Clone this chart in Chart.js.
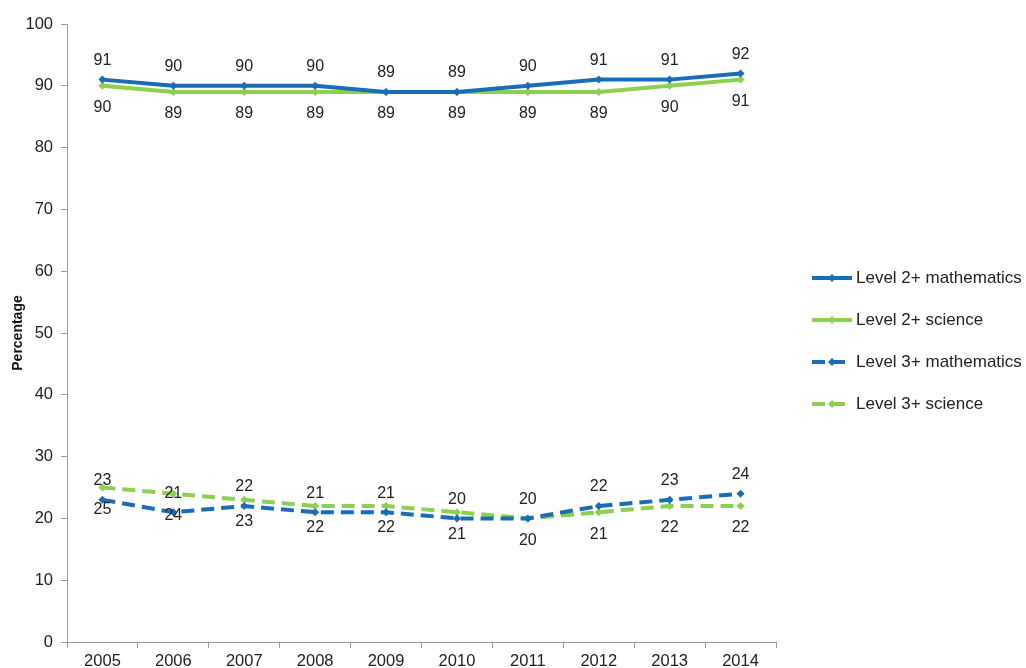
<!DOCTYPE html>
<html>
<head>
<meta charset="utf-8">
<script src="https://cdn.jsdelivr.net/npm/chart.js@4/dist/chart.umd.min.js"></script>
<style>
  body { margin: 0; background: #fff; }
  #wrap { width: 1026px; height: 668px; }
</style>
</head>
<body>
<div id="wrap"><canvas id="chart" width="1026" height="668"></canvas></div>
<script>
// years and series values
var years = ["2005","2006","2007","2008","2009","2010","2011","2012","2013","2014"];
var level2Maths = [91,90,90,90,89,89,90,91,91,92];
var level2Science = [90,89,89,89,89,89,89,89,90,91];
var level3Maths = [23,21,22,21,21,20,20,22,23,24];
var level3Science = [25,24,23,22,22,21,20,21,22,22];
var yTicks = [0,10,20,30,40,50,60,70,80,90,100];

var blue = '#1a6cb5';
var green = '#8dcf4f';
var font = 'Arial, "Liberation Sans", sans-serif';

// value labels: maths above the point, science below
var valueLabels = {
  id: 'valueLabels',
  afterDatasetsDraw: function(chart) {
    var ctx = chart.ctx;
    ctx.save();
    ctx.font = '16px ' + font;
    ctx.fillStyle = '#222';
    ctx.textAlign = 'center';
    ctx.textBaseline = 'middle';
    chart.data.datasets.forEach(function(ds, i) {
      var meta = chart.getDatasetMeta(i);
      var off = ds.labelAbove ? -19 : 22;
      meta.data.forEach(function(pt, j) {
        ctx.fillText(String(ds.data[j]), pt.x, pt.y + off);
      });
    });
    ctx.restore();
  }
};

// legend on the right, line + marker like the original
var sideLegend = {
  id: 'sideLegend',
  afterDraw: function(chart) {
    var ctx = chart.ctx;
    var x0 = 812, x1 = 852, y = 278;
    ctx.save();
    chart.data.datasets.forEach(function(ds) {
      ctx.strokeStyle = ds.borderColor;
      ctx.lineWidth = 4;
      ctx.setLineDash(ds.borderDash || []);
      ctx.beginPath();
      ctx.moveTo(x0, y);
      ctx.lineTo(x1, y);
      ctx.stroke();
      ctx.setLineDash([]);
      var cx = (x0 + x1) / 2;
      ctx.fillStyle = ds.borderColor;
      ctx.beginPath();
      ctx.moveTo(cx, y - 4);
      ctx.lineTo(cx + 4, y);
      ctx.lineTo(cx, y + 4);
      ctx.lineTo(cx - 4, y);
      ctx.closePath();
      ctx.fill();
      ctx.fillStyle = '#222';
      ctx.font = '17px ' + font;
      ctx.textAlign = 'left';
      ctx.textBaseline = 'middle';
      ctx.fillText(ds.label, x1 + 4, y);
      y += 42;
    });
    ctx.restore();
  }
};

function series(label, data, color, dashed, above) {
  return {
    label: label,
    data: data,
    borderColor: color,
    backgroundColor: color,
    borderWidth: 4,
    borderDash: dashed ? [13, 7] : [],
    pointStyle: 'rectRot',
    pointRadius: 4,
    pointHoverRadius: 4,
    pointBorderWidth: 0,
    tension: 0,
    labelAbove: above
  };
}

new Chart(document.getElementById('chart'), {
  type: 'line',
  data: {
    labels: years,
    datasets: [
      series('Level 2+ mathematics', level2Maths, blue, false, true),
      series('Level 2+ science', level2Science, green, false, false),
      series('Level 3+ mathematics', level3Maths, blue, true, true),
      series('Level 3+ science', level3Science, green, true, false)
    ]
  },
  options: {
    responsive: false,
    animation: false,
    layout: { padding: { top: 24, right: 250, left: 10, bottom: 0 } },
    plugins: {
      legend: { display: false },
      tooltip: { enabled: false }
    },
    scales: {
      x: {
        offset: true,
        grid: { display: true, offset: true, drawOnChartArea: false, tickLength: 6, color: '#999' },
        border: { color: '#999' },
        ticks: { color: '#222', font: { family: font, size: 16.5 }, padding: 4, maxRotation: 0 },
        afterFit: function(s) { s.height = 26; }
      },
      y: {
        min: 0,
        max: 100,
        afterBuildTicks: function(s) { s.ticks = yTicks.map(function(v) { return { value: v }; }); },
        grid: { drawOnChartArea: false, tickLength: 6, color: '#999' },
        border: { color: '#999' },
        ticks: { color: '#222', font: { family: font, size: 16.5 }, padding: 8 },
        title: { display: true, text: 'Percentage', color: '#111', font: { family: font, size: 14, weight: 'bold' }, padding: 0 },
        afterFit: function(s) { s.width = 57; }
      }
    }
  },
  plugins: [valueLabels, sideLegend]
});
</script>
</body>
</html>
